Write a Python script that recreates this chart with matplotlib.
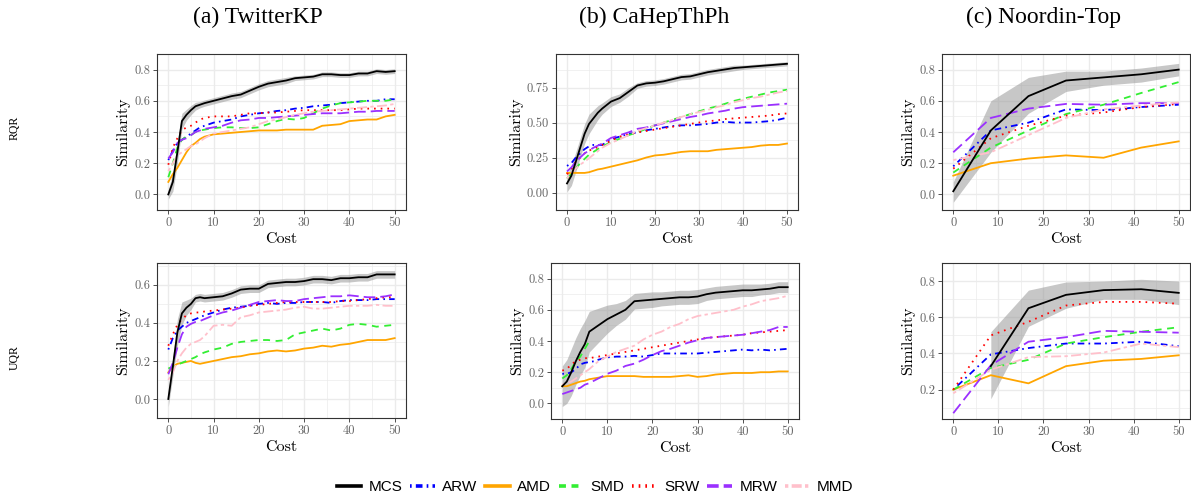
import numpy as np
import matplotlib
matplotlib.use("Agg")
import matplotlib.pyplot as plt
from matplotlib.lines import Line2D

# ---------------- data ----------------
methods = ["MCS", "ARW", "AMD", "SMD", "SRW", "MRW", "MMD"]
titles = ["(a) TwitterKP", "(b) CaHepThPh", "(c) Noordin-Top"]
rows = ["RQR", "UQR"]

X_dense = [0, 1, 2, 3, 4, 5, 6, 7, 8, 10, 12, 14, 16, 18, 20, 22, 24, 26, 28, 30,
           32, 34, 36, 38, 40, 42, 44, 46, 48, 50]
X_noordin = [0, 8.33, 16.67, 25, 33.33, 41.67, 50]

# (a) TwitterKP, RQR
MCS_a1 = [0.00, 0.08, 0.27, 0.47, 0.51, 0.54, 0.565, 0.575, 0.585, 0.60, 0.615, 0.63, 0.64, 0.665, 0.69,
          0.71, 0.72, 0.73, 0.745, 0.75, 0.755, 0.77, 0.77, 0.765, 0.765, 0.775, 0.775, 0.79, 0.785, 0.79]
SD_a1 = [0.03, 0.06, 0.07, 0.05, 0.035, 0.03, 0.025, 0.02, 0.02, 0.02, 0.02, 0.02, 0.02, 0.02, 0.02,
         0.02, 0.02, 0.02, 0.015, 0.015, 0.015, 0.015, 0.015, 0.015, 0.015, 0.015, 0.015, 0.015, 0.015, 0.015]
ARW_a1 = [0.22, 0.28, 0.33, 0.35, 0.37, 0.39, 0.41, 0.43, 0.44, 0.46, 0.47, 0.48, 0.50, 0.51, 0.52,
          0.525, 0.535, 0.54, 0.55, 0.555, 0.565, 0.57, 0.575, 0.585, 0.59, 0.595, 0.60, 0.60, 0.61, 0.61]
AMD_a1 = [0.08, 0.13, 0.17, 0.22, 0.27, 0.31, 0.33, 0.355, 0.37, 0.385, 0.39, 0.395, 0.40, 0.405, 0.41,
          0.41, 0.41, 0.415, 0.415, 0.415, 0.415, 0.44, 0.445, 0.45, 0.47, 0.475, 0.48, 0.48, 0.50, 0.51]
SMD_a1 = [0.11, 0.20, 0.30, 0.35, 0.37, 0.38, 0.40, 0.41, 0.415, 0.425, 0.43, 0.43, 0.425, 0.425, 0.43,
          0.45, 0.47, 0.485, 0.48, 0.49, 0.52, 0.55, 0.57, 0.585, 0.59, 0.595, 0.60, 0.60, 0.60, 0.61]
SRW_a1 = [0.19, 0.30, 0.36, 0.41, 0.43, 0.44, 0.46, 0.48, 0.49, 0.50, 0.50, 0.50, 0.51, 0.52, 0.52,
          0.525, 0.525, 0.53, 0.535, 0.54, 0.54, 0.54, 0.54, 0.54, 0.545, 0.55, 0.55, 0.55, 0.55, 0.55]
MRW_a1 = [0.23, 0.27, 0.33, 0.35, 0.36, 0.38, 0.40, 0.41, 0.42, 0.43, 0.44, 0.46, 0.475, 0.48, 0.49,
          0.49, 0.495, 0.50, 0.505, 0.51, 0.515, 0.52, 0.52, 0.52, 0.525, 0.53, 0.53, 0.535, 0.535, 0.535]
MMD_a1 = [0.15, 0.20, 0.25, 0.27, 0.29, 0.31, 0.32, 0.34, 0.36, 0.39, 0.40, 0.41, 0.42, 0.43, 0.45,
          0.47, 0.48, 0.495, 0.51, 0.52, 0.53, 0.535, 0.54, 0.545, 0.55, 0.555, 0.56, 0.565, 0.57, 0.58]

# (b) CaHepThPh, RQR
MCS_b1 = [0.065, 0.12, 0.22, 0.32, 0.42, 0.49, 0.53, 0.57, 0.60, 0.65, 0.675, 0.72, 0.765, 0.78, 0.785,
          0.795, 0.81, 0.825, 0.83, 0.845, 0.86, 0.87, 0.88, 0.89, 0.895, 0.90, 0.905, 0.91, 0.915, 0.92]
SD_b1 = [0.06, 0.07, 0.07, 0.07, 0.07, 0.07, 0.06, 0.05, 0.04, 0.035, 0.03, 0.03, 0.02, 0.02, 0.02,
         0.02, 0.02, 0.02, 0.02, 0.02, 0.02, 0.02, 0.02, 0.02, 0.015, 0.015, 0.015, 0.015, 0.015, 0.015]
ARW_b1 = [0.19, 0.21, 0.25, 0.28, 0.31, 0.33, 0.34, 0.34, 0.34, 0.38, 0.40, 0.42, 0.43, 0.445, 0.455,
          0.465, 0.475, 0.48, 0.48, 0.485, 0.49, 0.50, 0.505, 0.50, 0.50, 0.50, 0.505, 0.51, 0.52, 0.535]
AMD_b1 = [0.14, 0.14, 0.14, 0.14, 0.14, 0.145, 0.155, 0.165, 0.17, 0.185, 0.20, 0.215, 0.23, 0.25, 0.265,
          0.27, 0.28, 0.29, 0.295, 0.295, 0.295, 0.305, 0.31, 0.315, 0.32, 0.325, 0.335, 0.34, 0.34, 0.35]
SMD_b1 = [0.10, 0.13, 0.17, 0.21, 0.24, 0.27, 0.29, 0.31, 0.33, 0.36, 0.385, 0.41, 0.43, 0.455, 0.48,
          0.50, 0.52, 0.54, 0.56, 0.58, 0.60, 0.615, 0.635, 0.655, 0.67, 0.685, 0.70, 0.715, 0.725, 0.735]
SRW_b1 = [0.13, 0.17, 0.22, 0.25, 0.28, 0.30, 0.31, 0.325, 0.34, 0.37, 0.40, 0.415, 0.43, 0.44, 0.45,
          0.46, 0.47, 0.48, 0.49, 0.50, 0.51, 0.515, 0.525, 0.53, 0.535, 0.54, 0.545, 0.55, 0.56, 0.565]
MRW_b1 = [0.15, 0.18, 0.22, 0.25, 0.28, 0.30, 0.32, 0.335, 0.35, 0.39, 0.41, 0.43, 0.455, 0.465, 0.48,
          0.495, 0.51, 0.525, 0.54, 0.55, 0.565, 0.575, 0.585, 0.60, 0.61, 0.615, 0.62, 0.625, 0.63, 0.635]
MMD_b1 = [0.10, 0.14, 0.17, 0.20, 0.22, 0.245, 0.27, 0.295, 0.32, 0.355, 0.38, 0.41, 0.44, 0.46, 0.48,
          0.50, 0.52, 0.54, 0.56, 0.575, 0.59, 0.61, 0.625, 0.645, 0.66, 0.675, 0.685, 0.70, 0.715, 0.725]

# (c) Noordin-Top, RQR
MCS_c1 = [0.02, 0.41, 0.63, 0.73, 0.75, 0.77, 0.80]
LO_c1 = [-0.05, 0.27, 0.52, 0.66, 0.70, 0.72, 0.76]
HI_c1 = [0.08, 0.60, 0.75, 0.79, 0.79, 0.81, 0.84]
ARW_c1 = [0.18, 0.41, 0.46, 0.545, 0.54, 0.56, 0.575]
AMD_c1 = [0.12, 0.20, 0.23, 0.25, 0.235, 0.30, 0.34]
SMD_c1 = [0.14, 0.30, 0.41, 0.515, 0.575, 0.65, 0.72]
SRW_c1 = [0.165, 0.36, 0.44, 0.505, 0.525, 0.56, 0.58]
MRW_c1 = [0.27, 0.49, 0.55, 0.58, 0.575, 0.585, 0.585]
MMD_c1 = [0.22, 0.27, 0.38, 0.49, 0.545, 0.57, 0.59]

# (a) TwitterKP, UQR
MCS_a2 = [0.00, 0.17, 0.35, 0.45, 0.48, 0.50, 0.53, 0.535, 0.53, 0.535, 0.54, 0.555, 0.575, 0.58, 0.58,
          0.605, 0.61, 0.615, 0.615, 0.62, 0.63, 0.63, 0.625, 0.635, 0.635, 0.64, 0.64, 0.655, 0.655, 0.655]
SD_a2 = [0.04, 0.05, 0.07, 0.06, 0.04, 0.03, 0.02, 0.02, 0.02, 0.02, 0.02, 0.02, 0.02, 0.02, 0.02,
         0.02, 0.02, 0.02, 0.02, 0.02, 0.02, 0.02, 0.02, 0.02, 0.02, 0.02, 0.02, 0.02, 0.02, 0.02]
ARW_a2 = [0.26, 0.32, 0.36, 0.38, 0.40, 0.41, 0.42, 0.43, 0.44, 0.455, 0.47, 0.48, 0.485, 0.49, 0.50,
          0.505, 0.50, 0.505, 0.505, 0.51, 0.51, 0.51, 0.505, 0.515, 0.52, 0.52, 0.52, 0.525, 0.525, 0.525]
AMD_a2 = [0.14, 0.17, 0.185, 0.19, 0.195, 0.20, 0.19, 0.185, 0.19, 0.20, 0.21, 0.22, 0.225, 0.235, 0.24,
          0.25, 0.255, 0.25, 0.255, 0.265, 0.27, 0.28, 0.275, 0.285, 0.29, 0.30, 0.31, 0.31, 0.31, 0.32]
SMD_a2 = [0.16, 0.17, 0.18, 0.19, 0.20, 0.21, 0.22, 0.235, 0.245, 0.26, 0.27, 0.29, 0.30, 0.305, 0.31,
          0.31, 0.305, 0.31, 0.34, 0.35, 0.36, 0.37, 0.36, 0.37, 0.39, 0.395, 0.39, 0.38, 0.385, 0.39]
SRW_a2 = [0.28, 0.34, 0.39, 0.42, 0.44, 0.45, 0.455, 0.455, 0.46, 0.465, 0.47, 0.475, 0.48, 0.49, 0.495,
          0.50, 0.505, 0.51, 0.51, 0.51, 0.51, 0.51, 0.51, 0.515, 0.515, 0.52, 0.525, 0.53, 0.535, 0.535]
MRW_a2 = [0.13, 0.19, 0.27, 0.34, 0.38, 0.395, 0.405, 0.41, 0.42, 0.44, 0.455, 0.465, 0.48, 0.495, 0.51,
          0.515, 0.52, 0.515, 0.515, 0.525, 0.53, 0.535, 0.54, 0.54, 0.545, 0.54, 0.535, 0.535, 0.54, 0.55]
MMD_a2 = [0.10, 0.14, 0.20, 0.24, 0.27, 0.29, 0.30, 0.31, 0.33, 0.385, 0.39, 0.385, 0.43, 0.44, 0.455,
          0.46, 0.465, 0.47, 0.48, 0.485, 0.475, 0.475, 0.48, 0.485, 0.49, 0.49, 0.49, 0.495, 0.49, 0.49]

# (b) CaHepThPh, UQR
MCS_b2 = [0.11, 0.14, 0.20, 0.27, 0.33, 0.38, 0.46, 0.48, 0.50, 0.54, 0.57, 0.60, 0.655, 0.66, 0.665,
          0.67, 0.675, 0.68, 0.68, 0.685, 0.70, 0.71, 0.715, 0.72, 0.725, 0.725, 0.73, 0.735, 0.745, 0.745]
SD_b2 = [0.13, 0.14, 0.15, 0.15, 0.15, 0.15, 0.13, 0.12, 0.11, 0.09, 0.07, 0.06, 0.05, 0.05, 0.05,
         0.045, 0.045, 0.045, 0.045, 0.045, 0.04, 0.04, 0.04, 0.04, 0.04, 0.04, 0.035, 0.035, 0.035, 0.035]
ARW_b2 = [0.19, 0.19, 0.20, 0.22, 0.25, 0.26, 0.265, 0.27, 0.28, 0.295, 0.30, 0.30, 0.305, 0.30, 0.31,
          0.32, 0.32, 0.32, 0.32, 0.32, 0.325, 0.33, 0.335, 0.34, 0.345, 0.34, 0.345, 0.34, 0.345, 0.35]
AMD_b2 = [0.11, 0.11, 0.12, 0.13, 0.14, 0.145, 0.155, 0.16, 0.165, 0.175, 0.175, 0.175, 0.175, 0.17, 0.17,
          0.17, 0.17, 0.175, 0.18, 0.17, 0.175, 0.185, 0.19, 0.195, 0.195, 0.195, 0.20, 0.20, 0.205, 0.205]
SMD_b2 = [0.16, 0.18, 0.22, 0.27, 0.30, 0.35, 0.40] + [np.nan] * 23
SRW_b2 = [0.21, 0.22, 0.25, 0.27, 0.28, 0.29, 0.29, 0.295, 0.30, 0.31, 0.32, 0.33, 0.34, 0.35, 0.36,
          0.37, 0.38, 0.39, 0.40, 0.41, 0.42, 0.425, 0.43, 0.435, 0.44, 0.45, 0.455, 0.46, 0.465, 0.47]
MRW_b2 = [0.06, 0.07, 0.08, 0.09, 0.10, 0.12, 0.13, 0.145, 0.16, 0.19, 0.21, 0.24, 0.255, 0.28, 0.31,
          0.335, 0.35, 0.37, 0.39, 0.405, 0.42, 0.425, 0.43, 0.435, 0.44, 0.45, 0.46, 0.47, 0.49, 0.49]
MMD_b2 = [0.12, 0.13, 0.14, 0.16, 0.18, 0.20, 0.22, 0.245, 0.27, 0.30, 0.33, 0.35, 0.37, 0.41, 0.44,
          0.46, 0.49, 0.51, 0.54, 0.56, 0.57, 0.58, 0.59, 0.60, 0.62, 0.635, 0.655, 0.665, 0.675, 0.69]

# (c) Noordin-Top, UQR
MCS_c2 = [np.nan, 0.33, 0.65, 0.724, 0.75, 0.755, 0.735]
LO_c2 = [np.nan, 0.15, 0.55, 0.65, 0.70, 0.70, 0.67]
HI_c2 = [np.nan, 0.52, 0.75, 0.795, 0.80, 0.81, 0.80]
ARW_c2 = [0.20, 0.395, 0.43, 0.455, 0.455, 0.465, 0.44]
AMD_c2 = [0.20, 0.28, 0.235, 0.33, 0.36, 0.37, 0.39]
SMD_c2 = [0.20, 0.32, 0.365, 0.455, 0.49, 0.52, 0.545]
SRW_c2 = [0.20, 0.50, 0.575, 0.665, 0.685, 0.685, 0.675]
MRW_c2 = [0.07, 0.335, 0.465, 0.49, 0.525, 0.52, 0.515]
MMD_c2 = [0.18, 0.31, 0.38, 0.385, 0.405, 0.455, 0.435]

# y tick labels per panel
yticks_a1 = ["0.0", "0.2", "0.4", "0.6", "0.8"]
yticks_b1 = ["0.00", "0.25", "0.50", "0.75"]
yticks_c1 = ["0.0", "0.2", "0.4", "0.6", "0.8"]
yticks_a2 = ["0.0", "0.2", "0.4", "0.6"]
yticks_b2 = ["0.0", "0.2", "0.4", "0.6", "0.8"]
yticks_c2 = ["0.2", "0.4", "0.6", "0.8"]
xticks = ["0", "10", "20", "30", "40", "50"]

# ---------------- styles ----------------
colors = {"MCS": "black", "ARW": "#0000ff", "AMD": "#ffa500", "SMD": "#33ee33",
          "SRW": "#ff0000", "MRW": "#9b30ff", "MMD": "#ffc0cb"}
dashes = {"MCS": None, "ARW": (1.2, 3.0, 4.8, 3.0), "AMD": None, "SMD": (5.0, 4.0),
          "SRW": (1.2, 3.6), "MRW": (8.4, 3.6), "MMD": (2.4, 2.4, 7.2, 2.4)}

plt.rcParams["lines.scale_dashes"] = False
fig = plt.figure(figsize=(11.91, 5.0), dpi=100)

W, H = 1191.0, 500.0
def pos(l, r, t, b):
    return [l / W, 1 - b / H, (r - l) / W, (b - t) / H]

panels = [
    dict(rect=pos(157, 406, 54, 210), x=X_dense, ylim=(-0.055, 0.86), ytl=yticks_a1,
         mcs=MCS_a1, band=("sd", SD_a1),
         s=dict(ARW=ARW_a1, AMD=AMD_a1, SMD=SMD_a1, SRW=SRW_a1, MRW=MRW_a1, MMD=MMD_a1)),
    dict(rect=pos(556, 798, 54, 210), x=X_dense, ylim=(-0.05, 0.99), ytl=yticks_b1,
         mcs=MCS_b1, band=("sd", SD_b1),
         s=dict(ARW=ARW_b1, AMD=AMD_b1, SMD=SMD_b1, SRW=SRW_b1, MRW=MRW_b1, MMD=MMD_b1)),
    dict(rect=pos(942, 1190, 54, 210), x=X_noordin, ylim=(-0.09, 0.893), ytl=yticks_c1,
         mcs=MCS_c1, band=("lohi", LO_c1, HI_c1),
         s=dict(ARW=ARW_c1, AMD=AMD_c1, SMD=SMD_c1, SRW=SRW_c1, MRW=MRW_c1, MMD=MMD_c1)),
    dict(rect=pos(157, 406, 263, 418), x=X_dense, ylim=(-0.082, 0.715), ytl=yticks_a2,
         mcs=MCS_a2, band=("sd", SD_a2),
         s=dict(ARW=ARW_a2, AMD=AMD_a2, SMD=SMD_a2, SRW=SRW_a2, MRW=MRW_a2, MMD=MMD_a2)),
    dict(rect=pos(551, 799, 263, 419), x=X_dense, ylim=(-0.069, 0.83), ytl=yticks_b2,
         mcs=MCS_b2, band=("sd", SD_b2),
         s=dict(ARW=ARW_b2, AMD=AMD_b2, SMD=SMD_b2, SRW=SRW_b2, MRW=MRW_b2, MMD=MMD_b2)),
    dict(rect=pos(942, 1190, 263, 419), x=X_noordin, ylim=(0.038, 0.847), ytl=yticks_c2,
         mcs=MCS_c2, band=("lohi", LO_c2, HI_c2),
         s=dict(ARW=ARW_c2, AMD=AMD_c2, SMD=SMD_c2, SRW=SRW_c2, MRW=MRW_c2, MMD=MMD_c2)),
]

CM = "cmr10"
grid_c = "#ebebeb"
for p in panels:
    ax = fig.add_axes(p["rect"])
    x = np.array(p["x"], dtype=float)
    m = np.array(p["mcs"], dtype=float)
    if p["band"][0] == "sd":
        sd = np.array(p["band"][1])
        lo, hi = m - sd, m + sd
    else:
        lo, hi = np.array(p["band"][1], dtype=float), np.array(p["band"][2], dtype=float)
    ax.fill_between(x, lo, hi, color="#999999", alpha=0.55, lw=0, zorder=2)
    for name in ["ARW", "AMD", "SMD", "SRW", "MRW", "MMD"]:
        ln, = ax.plot(x, p["s"][name], color=colors[name], lw=1.3, zorder=3)
        if dashes[name]:
            ln.set_dashes(dashes[name])
    ax.plot(x, m, color="black", lw=1.3, zorder=4)

    ax.set_xlim(-2.5, 52.5)
    ax.set_ylim(*p["ylim"])
    xt = [float(t) for t in xticks]
    ax.set_xticks(xt)
    ax.set_xticklabels(xticks)
    yt = [float(t) for t in p["ytl"]]
    ax.set_yticks(yt)
    ax.set_yticklabels(p["ytl"])
    ax.set_xticks([v + 5 for v in xt[:-1]], minor=True)
    ax.set_yticks([(a + b) / 2 for a, b in zip(yt[:-1], yt[1:])]
                  + [yt[0] - (yt[1] - yt[0]) / 2, yt[-1] + (yt[1] - yt[0]) / 2], minor=True)
    ax.grid(True, which="major", color=grid_c, lw=1.0, zorder=0)
    ax.grid(True, which="minor", color=grid_c, lw=0.5, zorder=0)
    ax.set_axisbelow(True)
    ax.tick_params(which="minor", length=0)
    ax.tick_params(which="major", length=3, width=0.6, color="#333333",
                   labelcolor="#666666", labelsize=9, pad=2)
    for lab in ax.get_xticklabels() + ax.get_yticklabels():
        lab.set_fontfamily(CM)
    for sp in ax.spines.values():
        sp.set_color("#333333")
        sp.set_linewidth(0.8)
    ax.set_xlabel("Cost", fontfamily=CM, fontsize=11.5, labelpad=2)
    ax.set_ylabel("Similarity", fontfamily=CM, fontsize=11.5, labelpad=3)

# titles
for t, xc in zip(titles, [258, 654, 1043]):
    fig.text(xc / W, 1 - 17 / H, t, ha="center", va="center",
             fontfamily="Liberation Serif", fontsize=17)
# row labels
for r, yc in zip(rows, [128, 358]):
    fig.text(15 / W, 1 - yc / H, r, ha="center", va="center", rotation=90,
             fontfamily="Liberation Serif", fontsize=8.5)

# legend
handles = []
for name in methods:
    h = Line2D([], [], color=colors[name], lw=2.6)
    if dashes[name]:
        h.set_dashes(tuple(d * 1.0 for d in dashes[name]))
    handles.append(h)
leg = fig.legend(handles, methods, loc="center", bbox_to_anchor=(595 / W, 1 - 487 / H),
                 ncol=7, frameon=False, prop={"family": "Liberation Sans", "size": 11},
                 handlelength=1.6, handletextpad=0.5, columnspacing=0.5)

fig.savefig("out.png", dpi=100)
